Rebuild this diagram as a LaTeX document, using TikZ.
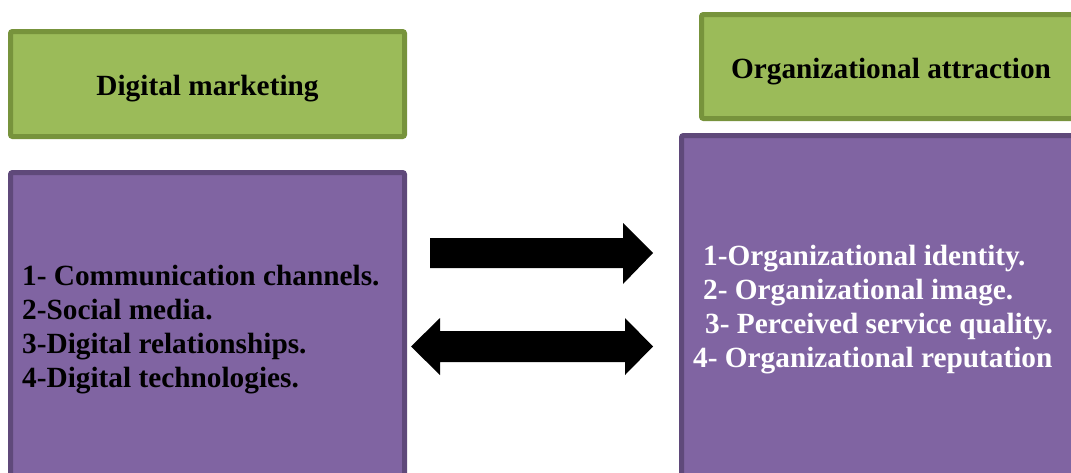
\documentclass[tikz,border=0pt]{standalone}
\usepackage{fontspec}
\setmainfont{Liberation Serif}
\begin{document}
\begin{tikzpicture}[x=1pt,y=-1pt,
  greenbox/.style={draw=grnB,fill=grnF,line width=5pt,rounded corners=2pt,inner sep=0pt,outer sep=0pt,anchor=north west},
  purplebox/.style={draw=purB,fill=purF,line width=5pt,rounded corners=2pt,inner sep=0pt,outer sep=0pt,anchor=north west},
  txt/.style={font=\fontsize{29.3}{34}\selectfont\bfseries,inner sep=0pt,anchor=base west},
  blockarrow/.style={fill=black,draw=none}]
\definecolor{grnF}{HTML}{9BBB59}
\definecolor{grnB}{HTML}{77933C}
\definecolor{purF}{HTML}{8064A2}
\definecolor{purB}{HTML}{5F497A}
\useasboundingbox (0,0) rectangle (1071,472);
\clip (0,0) rectangle (1071,472);
% boxes
\node[greenbox,minimum width=394pt,minimum height=105pt] (grnL) at (10.5,31.5) {};
\node[purplebox,minimum width=394pt,minimum height=340pt] (purL) at (10.5,172.5) {};
\node[greenbox,minimum width=379pt,minimum height=104pt] (grnR) at (701.5,14.5) {};
\node[purplebox,minimum width=420pt,minimum height=360pt] (purR) at (681.5,135.5) {};
% titles
\node[txt,anchor=base] (titleL) at (207.5,95) {Digital marketing};
\node[txt,anchor=base] (titleR) at (891,78) {Organizational attraction};
% left list
\node[txt] (l1) at (22,285) {1- Communication channels.};
\node[txt] (l2) at (22,319) {2-Social media.};
\node[txt] (l3) at (22,353) {3-Digital relationships.};
\node[txt] (l4) at (22,387) {4-Digital technologies.};
% right list
\node[txt,text=white] (r1) at (703,265) {1-Organizational identity.};
\node[txt,text=white] (r2) at (703,299) {2- Organizational image.};
\node[txt,text=white] (r3) at (705,333) {3- Perceived service quality.};
\node[txt,text=white] (r4) at (693,367) {4- Organizational reputation};
% arrows
\fill[blockarrow] (430,238) -- (623,238) -- (623,223) -- (653,253) -- (623,284) -- (623,268) -- (430,268) -- cycle;
\fill[blockarrow] (411,346.5) -- (440,318) -- (440,331) -- (625,331) -- (625,318) -- (653,346.5) -- (625,375) -- (625,362) -- (440,362) -- (440,375) -- cycle;
\end{tikzpicture}
\end{document}
